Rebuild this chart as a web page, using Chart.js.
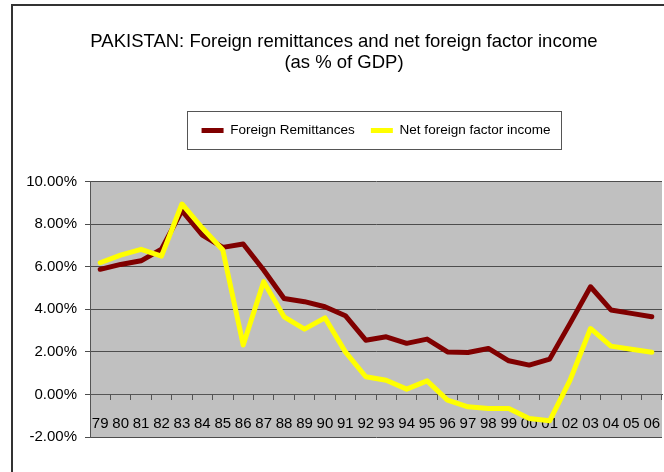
<!DOCTYPE html>
<html>
<head>
<meta charset="utf-8">
<script src="https://cdn.jsdelivr.net/npm/chart.js@4.4.0/dist/chart.umd.min.js"></script>
<style>
  html, body { margin: 0; padding: 0; background: #fff; }
  #wrap { width: 664px; height: 472px; }
</style>
</head>
<body>
<div id="wrap"><canvas id="remitChart"></canvas></div>
<script>
// Data (% of GDP)
const years = ['79', '80', '81', '82', '83', '84', '85', '86', '87', '88', '89', '90', '91', '92',
  '93', '94', '95', '96', '97', '98', '99', '00', '01', '02', '03', '04', '05', '06'];
const remittances = [5.88, 6.11, 6.28, 6.83, 8.64, 7.49, 6.91, 7.07, 5.85, 4.51, 4.36, 4.12, 3.70, 2.55,
  2.71, 2.40, 2.60, 2.00, 1.97, 2.16, 1.58, 1.38, 1.66, 3.34, 5.06, 3.97, 3.81, 3.65];
const netFactorIncome = [6.19, 6.55, 6.82, 6.50, 8.95, 7.82, 6.79, 2.32, 5.30, 3.65, 3.07, 3.60, 2.00, 0.83,
  0.67, 0.25, 0.64, -0.27, -0.58, -0.66, -0.66, -1.13, -1.24, 0.67, 3.10, 2.27, 2.12, 1.98];
const yTicks = [-2, 0, 2, 4, 6, 8, 10];

const FONT = "'Liberation Sans', Arial, sans-serif";
const PAD_LEFT = 26;

// grey plot area, outer frame and the box round the legend
const chartDecor = {
  id: 'chartDecor',
  beforeDraw(chart) {
    const { ctx, chartArea: a } = chart;
    ctx.save();
    ctx.fillStyle = '#ffffff';
    ctx.fillRect(0, 0, chart.width, chart.height);
    ctx.fillStyle = '#c0c0c0';
    ctx.fillRect(a.left, a.top, a.right - a.left, a.bottom - a.top);
    ctx.strokeStyle = '#333';
    ctx.lineWidth = 2;
    ctx.strokeRect(12, 5, chart.width + 20, chart.height + 20);
    ctx.restore();
  },
  afterDraw(chart) {
    const boxes = chart.legend && chart.legend.legendHitBoxes;
    if (!boxes || !boxes.length) return;
    const first = boxes[0], last = boxes[boxes.length - 1];
    const cy = first.top + first.height / 2;
    const ctx = chart.ctx;
    ctx.save();
    ctx.strokeStyle = '#555';
    ctx.lineWidth = 1;
    ctx.strokeRect(Math.round(first.left - 15) + 0.5, Math.round(cy - 19) + 0.5,
      Math.round(last.left + last.width + 10 - (first.left - 15)), 38);
    ctx.restore();
  }
};

const ctx = document.getElementById('remitChart').getContext('2d');
new Chart(ctx, {
  type: 'line',
  data: {
    labels: years,
    datasets: [{
      label: 'Foreign Remittances',
      data: remittances,
      borderColor: '#800000',
      backgroundColor: '#800000',
      borderWidth: 5,
      pointRadius: 0,
      tension: 0,
      borderJoinStyle: 'round',
      borderCapStyle: 'round',
      order: 1
    }, {
      label: 'Net foreign factor income',
      data: netFactorIncome,
      borderColor: '#ffff00',
      backgroundColor: '#ffff00',
      borderWidth: 5,
      pointRadius: 0,
      tension: 0,
      borderJoinStyle: 'round',
      borderCapStyle: 'round',
      order: 0
    }]
  },
  options: {
    responsive: true,
    maintainAspectRatio: false,
    animation: false,
    events: [],
    layout: { padding: { left: PAD_LEFT, right: 2, top: 0, bottom: 35 } },
    plugins: {
      tooltip: { enabled: false },
      title: {
        display: true,
        text: ['PAKISTAN: Foreign remittances and net foreign factor income', '(as % of GDP)'],
        color: '#000',
        font: { family: FONT, size: 18.5, weight: 'normal', lineHeight: 1.135 },
        padding: { top: 31.7, bottom: 34 }
      },
      legend: {
        position: 'top',
        fullSize: false,
        labels: {
          usePointStyle: true,
          pointStyle: 'line',
          pointStyleWidth: 22,
          color: '#000',
          padding: 16,
          font: { family: FONT, size: 13.5 },
          sort: (a, b) => a.datasetIndex - b.datasetIndex
        }
      },
      // empty spacer between legend and plot
      subtitle: {
        display: true,
        text: '',
        fullSize: false,
        weight: 500,
        font: { size: 12, lineHeight: 1 },
        padding: { top: 22.45, bottom: 0 }
      }
    },
    scales: {
      x: {
        position: { y: 0 },
        offset: true,
        grid: { display: true, drawOnChartArea: false, offset: true, tickLength: 5, color: '#555' },
        border: { display: true, color: '#555', width: 1 },
        ticks: { color: '#000', font: { family: FONT, size: 15 }, padding: 15, maxRotation: 0, autoSkip: false },
        afterFit: (scale) => { scale.paddingLeft = 0; scale.paddingRight = 0; }
      },
      y: {
        min: -2,
        max: 10,
        afterBuildTicks: (scale) => { scale.ticks = yTicks.map(v => ({ value: v })); },
        afterFit: (scale) => { scale.width = 90 - PAD_LEFT; },
        grid: { color: '#4d4d4d', tickLength: 5, lineWidth: 1 },
        border: { color: '#555' },
        ticks: {
          color: '#000',
          font: { family: FONT, size: 15 },
          padding: 8,
          callback: (v) => v.toFixed(2) + '%'
        }
      }
    }
  },
  plugins: [chartDecor]
});
</script>
</body>
</html>
